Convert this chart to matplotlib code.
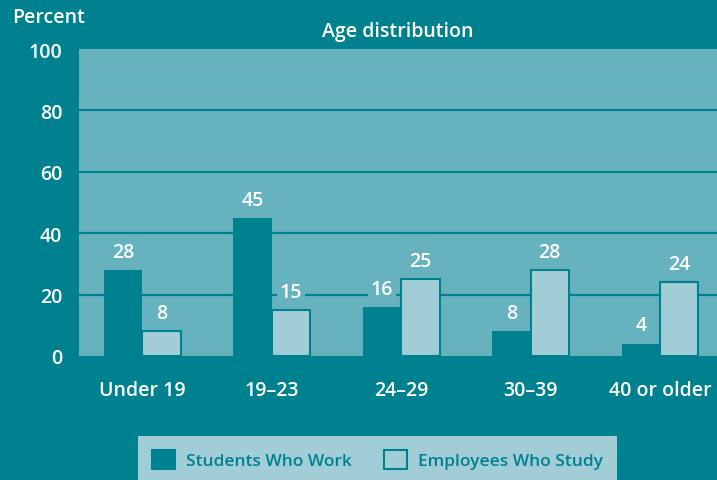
import matplotlib
matplotlib.use("Agg")
import matplotlib.pyplot as plt
import matplotlib.patches as patches
import numpy as np

plt.rcParams['font.family'] = ['Open Sans', 'DejaVu Sans']

# datos
categorias = ['Under 19', '19\u201323', '24\u201329', '30\u201339', '40 or older']
estudiantes_trabajan = [28, 45, 16, 8, 4]
empleados_estudian = [8, 15, 25, 28, 24]
series = ['Students Who Work', 'Employees Who Study']
ticks_y = [0, 20, 40, 60, 80, 100]

OSCURO = '#00818F'
FONDO_PLOT = '#66B2BE'
CLARO = '#A0CDD6'
FS = 14

fig = plt.figure(figsize=(7.17, 4.81), dpi=100, facecolor=OSCURO)
ax = fig.add_axes([79/717, 124/481, 638/717, 307/481])
ax.set_facecolor(FONDO_PLOT)

x = np.arange(len(categorias))
ancho = 0.297

for y in ticks_y[1:-1]:
    ax.axhline(y, color=OSCURO, linewidth=1.6, zorder=1)

b1 = ax.bar(x - ancho/2, estudiantes_trabajan, ancho, color=OSCURO,
            edgecolor=OSCURO, linewidth=0, zorder=2)
b2 = ax.bar(x + ancho/2, empleados_estudian, ancho, color=CLARO,
            edgecolor=OSCURO, linewidth=1.5, zorder=3)

for barras, valores in [(b1, estudiantes_trabajan), (b2, empleados_estudian)]:
    for barra, v in zip(barras, valores):
        ax.annotate(str(v), (barra.get_x() + barra.get_width()/2, v),
                    xytext=(0, 6), textcoords='offset points',
                    ha='center', va='bottom', color='white',
                    fontsize=FS, fontweight='semibold', zorder=4,
                    bbox=dict(boxstyle='square,pad=0.15',
                              facecolor=FONDO_PLOT, edgecolor='none'))

ax.set_xlim(-0.487, 4.44)
ax.set_ylim(0, 100)
ax.set_yticks(ticks_y)
ax.set_xticks(x)
ax.set_xticklabels(categorias)
ax.tick_params(axis='both', length=0, colors='white', labelsize=FS)
ax.tick_params(axis='x', pad=17)
ax.tick_params(axis='y', pad=12)
for lbl in ax.get_xticklabels() + ax.get_yticklabels():
    lbl.set_fontweight('semibold')
for lado in ax.spines.values():
    lado.set_visible(False)

ax.set_title('Age distribution', color='white', fontsize=FS,
             fontweight='semibold', pad=9)
fig.text(12/717, 1 - 18/481, 'Percent', color='white', fontsize=FS,
         fontweight='semibold', ha='left', va='center')

manejadores = [patches.Patch(facecolor=OSCURO, edgecolor=OSCURO, linewidth=1.5),
               patches.Patch(facecolor=CLARO, edgecolor=OSCURO, linewidth=1.5)]
leg = fig.legend(manejadores, series, ncol=2, loc='lower center',
                 bbox_to_anchor=(377.5/717, -0.025), frameon=True,
                 fontsize=12.5, handlelength=1.32, handleheight=1.32,
                 handletextpad=0.63, columnspacing=1.9, borderpad=0.8,
                 fancybox=False, edgecolor='none', facecolor=CLARO,
                 framealpha=1)
for t in leg.get_texts():
    t.set_color(OSCURO)
    t.set_fontweight('semibold')

plt.savefig('out.png', dpi=100, facecolor=OSCURO)
